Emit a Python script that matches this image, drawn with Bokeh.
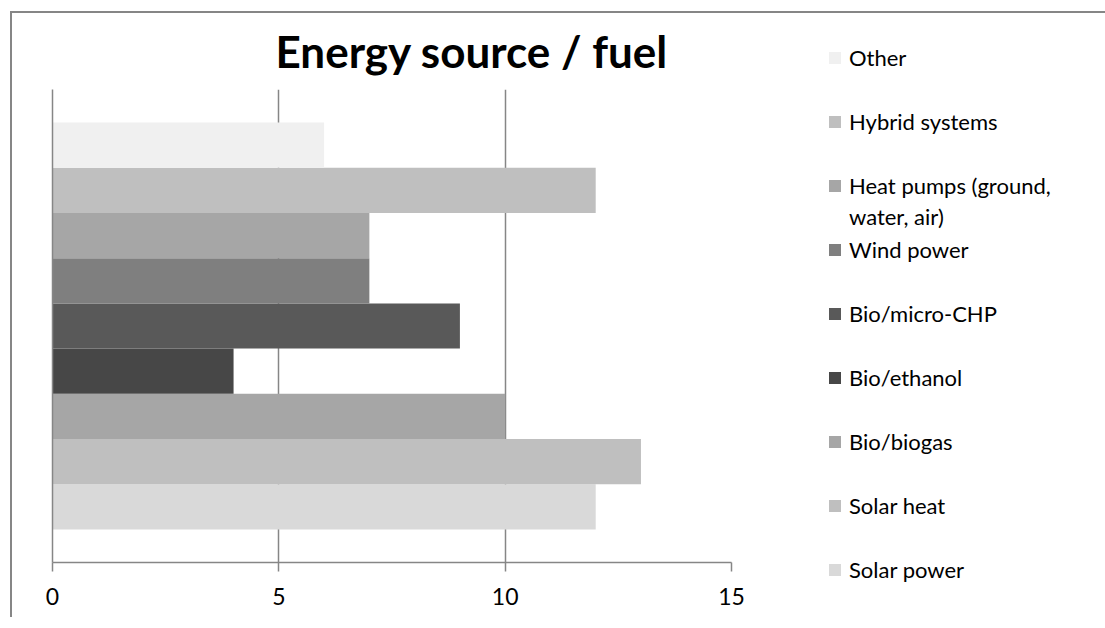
from bokeh.plotting import figure
from bokeh.models import (Range1d, FixedTicker, Legend, LegendItem, Title,
                          LinearAxis)
from bokeh.embed import file_html
from bokeh.resources import INLINE

# Data (bottom to top as drawn)
categories = ["Solar power", "Solar heat", "Bio/biogas", "Bio/ethanol",
              "Bio/micro-CHP", "Wind power", "Heat pumps (ground,",
              "Hybrid systems", "Other"]
label_continuation = "water, air)"
values = [12, 13, 10, 4, 9, 7, 7, 12, 6]
colors = ["#d9d9d9", "#bfbfbf", "#a6a6a6", "#474747", "#595959",
          "#7f7f7f", "#a6a6a6", "#bfbfbf", "#f0f0f0"]
x_ticks = [0, 5, 10, 15]
title_text = "Energy source / fuel"

FONT = "Lato"
GRID = "#868686"

p = figure(frame_width=679, frame_height=473, output_backend="svg",
           toolbar_location=None,
           x_range=Range1d(0, 15), y_range=Range1d(-1.23, 9.23),
           min_border_left=40, min_border_right=10, min_border_top=76,
           min_border_bottom=55, x_axis_location=None, y_axis_location=None)
p.outline_line_color = None
p.background_fill_color = "white"
p.border_fill_color = "white"
p.styles = {"border-left": "2px solid #868686", "border-top": "2px solid #868686",
            "margin-left": "10px", "margin-top": "11px"}

p.title = Title(text=title_text, text_font=FONT, text_font_style="bold",
                text_font_size="44px", text_color="#000000", align="left",
                vertical_align="top", offset=223, standoff=22)

# x axis
xaxis = LinearAxis(ticker=FixedTicker(ticks=x_ticks))
xaxis.axis_line_color = GRID
xaxis.axis_line_width = 1.5
xaxis.major_tick_line_color = GRID
xaxis.major_tick_line_width = 1.5
xaxis.major_tick_out = 9
xaxis.major_tick_in = 0
xaxis.minor_tick_line_color = None
xaxis.major_label_text_font = FONT
xaxis.major_label_text_font_size = "23px"
xaxis.major_label_text_color = "#000000"
xaxis.major_label_standoff = 16
p.add_layout(xaxis, "below")

# y axis: only the line
yaxis = LinearAxis(ticker=FixedTicker(ticks=[]))
yaxis.axis_line_color = GRID
yaxis.axis_line_width = 1.5
yaxis.major_tick_line_color = None
yaxis.minor_tick_line_color = None
yaxis.major_label_text_font_size = "0px"
p.add_layout(yaxis, "left")

p.xgrid.ticker = FixedTicker(ticks=x_ticks)
p.xgrid.grid_line_color = GRID
p.xgrid.grid_line_width = 1.5
p.ygrid.grid_line_color = None

items = []
for i, (cat, val, col) in enumerate(zip(categories, values, colors)):
    r = p.hbar(y=[i], left=[0], right=[val], height=1.0,
               fill_color=col, line_color=None)
    items.append(LegendItem(label=cat, renderers=[r]))

def style_legend(lg):
    lg.label_text_font = FONT
    lg.label_text_font_size = "22px"
    lg.label_text_color = "#000000"
    lg.glyph_width = 15
    lg.glyph_height = 15
    lg.label_height = 28
    lg.label_standoff = 7
    lg.spacing = 36
    lg.padding = 0
    lg.margin = 0
    lg.border_line_color = None
    lg.background_fill_alpha = 0

legend = Legend(items=list(reversed(items)), location=(96, -21))
style_legend(legend)
p.add_layout(legend, "right")

# continuation line of the wrapped "Heat pumps" legend label (no swatch)
ghost = p.hbar(y=[6], left=[0], right=[values[6]], height=1.0,
               fill_alpha=0, line_alpha=0)
legend2 = Legend(items=[LegendItem(label=label_continuation, renderers=[ghost])],
                 location=(-614, 332))
style_legend(legend2)
p.add_layout(legend2, "right")

open("out.html", "w").write(file_html(p, INLINE))
